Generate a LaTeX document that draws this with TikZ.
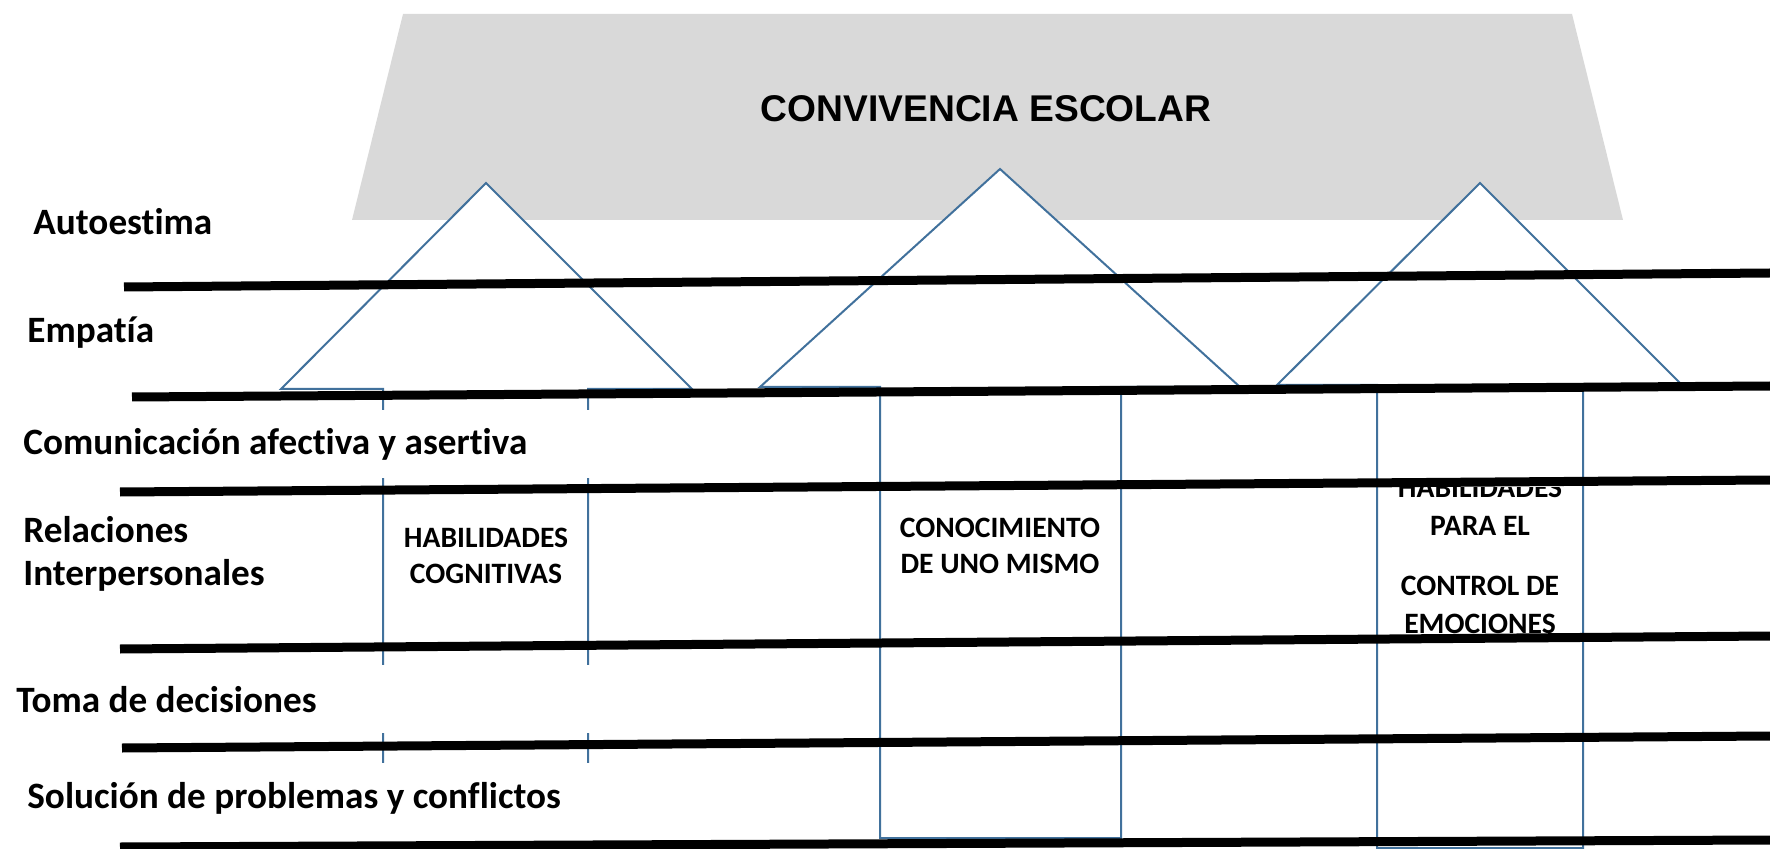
\documentclass[tikz,border=0pt]{standalone}
\usepackage{fontspec}
\newfontfamily\labfont{Carlito}[Ligatures=NoCommon]
\newfontfamily\titlefont{Liberation Sans}
\definecolor{arrowblue}{RGB}{65,113,156}
\definecolor{roofgray}{RGB}{217,217,217}
\tikzset{
  upshape/.style={draw=arrowblue, line width=1pt, fill=white, line join=miter},
  rule/.style={line width=4.5pt, black},
  lab/.style={anchor=base west, inner sep=0pt, font=\labfont\bfseries\fontsize{18.6}{22}\selectfont},
  intext/.style={anchor=base, inner sep=0pt, font=\labfont\bfseries\fontsize{14.8}{17}\selectfont},
  ttl/.style={anchor=base, inner sep=0pt, font=\titlefont\bfseries\fontsize{18.6}{22}\selectfont}
}
\begin{document}
\begin{tikzpicture}[x=0.5pt,y=-0.5pt]
\useasboundingbox (0,0) rectangle (1770,849);
\clip (0,0) rectangle (1770,849);
% roof
\fill[roofgray] (403,14) -- (1572,14) -- (1623,220) -- (352,220) -- cycle;
\node[ttl] (title) at (986,122) {CONVIVENCIA ESCOLAR};
% up arrows
\draw[upshape] (486,183) -- (692,389) -- (588,389) -- (588,870) -- (383,870) -- (383,389) -- (281,389) -- cycle;
\draw[upshape] (1000,169) -- (1240,387) -- (1121,387) -- (1121,838) -- (880,838) -- (880,387) -- (760,387) -- cycle;
\draw[upshape] (1480,183) -- (1682,385) -- (1583,385) -- (1583,848) -- (1377,848) -- (1377,385) -- (1277,385) -- cycle;
% arrow texts
\node[intext] (hc1) at (486,547) {HABILIDADES};
\node[intext] (hc2) at (486,583) {COGNITIVAS};
\node[intext] (cm1) at (1000,537) {CONOCIMIENTO};
\node[intext] (cm2) at (1000,573) {DE UNO MISMO};
\begin{scope}
\clip (1377,487) rectangle (1583,849);
\node[intext] (he1) at (1480,497) {HABILIDADES};
\end{scope}
\node[intext] (he2) at (1480,535) {PARA EL};
\node[intext] (he3) at (1480,595) {CONTROL DE};
\node[intext] (he4) at (1480,633) {EMOCIONES};
% white label boxes
\fill[white] (10,410) rectangle (592,478);
\fill[white] (10,665) rectangle (592,733);
\fill[white] (10,763) rectangle (592,842);
% labels
\node[lab] (l1) at (33,235) {Autoestima};
\node[lab] (l2) at (27,343) {Empatía};
\node[lab] (l3) at (23,455) {Comunicación afectiva y asertiva};
\node[lab] (l4a) at (23,542) {Relaciones};
\node[lab] (l4b) at (23,585) {Interpersonales};
\node[lab] (l5) at (16,712) {Toma de decisiones};
\node[lab] (l6) at (27,808) {Solución de problemas y conflictos};
% rules
\draw[rule] (124,287) -- (1770,273);
\draw[rule] (132,397) -- (1770,386);
\draw[rule] (120,492) -- (1770,480);
\draw[rule] (120,649) -- (1770,636);
\draw[rule] (122,748) -- (1770,736);
\draw[rule] (120,847) -- (1770,840);
\end{tikzpicture}
\end{document}
